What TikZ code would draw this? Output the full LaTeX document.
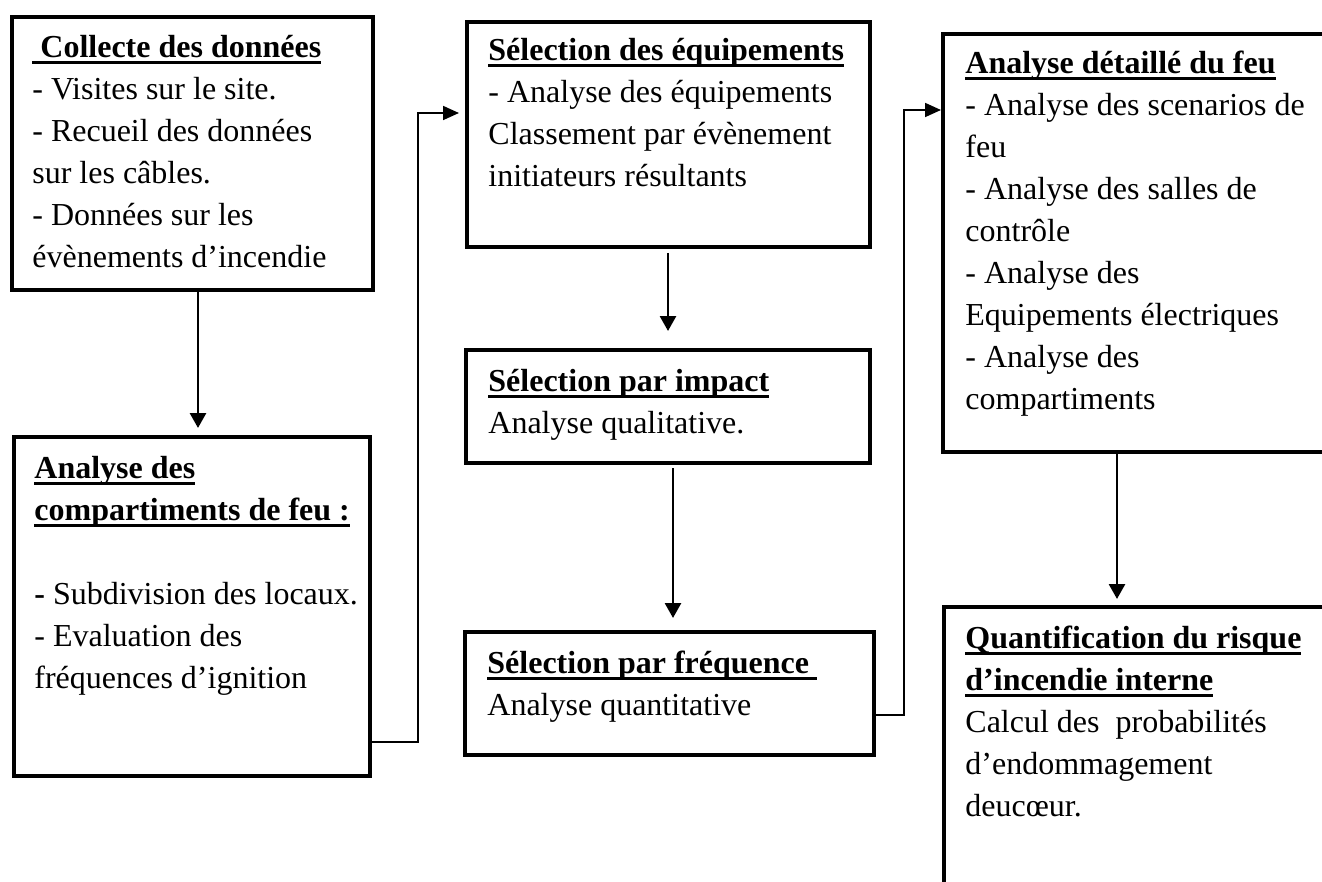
\documentclass[tikz,border=0pt]{standalone}
\usepackage{fontspec}
\setmainfont{Liberation Serif}
\usetikzlibrary{arrows.meta,fit}

% underline drawn at a fixed depth below the baseline
\newcommand\ulbox[1]{\setbox0\hbox{#1}\rlap{\rule[-3.5pt]{\wd0}{1.6pt}}\box0}

\begin{document}
\begin{tikzpicture}[x=0.5pt,y=-0.5pt,
  box/.style={draw, line width=2pt, inner sep=0pt, outer sep=0pt},
  txt/.style={anchor=north west, inner sep=0pt, align=left,
              font=\fontsize{16}{21}\selectfont},
  varrow/.style={line width=1.4pt, -{Triangle[length=7.5pt,width=8pt]}},
  earrow/.style={line width=0.9pt, -{Triangle[length=8pt,width=7pt]}},
]
\path[clip] (0,0) rectangle (1322,882);
\fill[white] (0,0) rectangle (1322,882);

% frames of the seven steps
\node[box, fit={(12,17) (373,290)}] (b1) {};
\node[box, fit={(14,437) (370,776)}] (b2) {};
\node[box, fit={(467,22) (870,247)}] (b3) {};
\node[box, fit={(466,350) (870,463)}] (b4) {};
\node[box, fit={(465,632) (874,755)}] (b5) {};
\node[box, fit={(943,34) (1360,452)}] (b6) {};
\node[box, fit={(944,607) (1360,920)}] (b7) {};

% texts of the steps
\node[txt] (t1) at (32,27.6) {\strut\ulbox{\bfseries\ Collecte des données}\\
  - Visites sur le site.\\
  - Recueil des données\\
  sur les câbles.\\
  - Données sur les\\
  évènements d’incendie};
\node[txt] (t2) at (34,448.6) {\strut\ulbox{\bfseries Analyse des}\\
  \ulbox{\bfseries compartiments de feu :}\\[21pt]
  \textbf{-} Subdivision des locaux.\\
  - Evaluation des\\
  fréquences d’ignition};
\node[txt] (t3) at (488,30.6) {\strut\ulbox{\bfseries Sélection des équipements}\\
  - Analyse des équipements\\
  Classement par évènement\\
  initiateurs résultants};
\node[txt] (t4) at (488,361.6) {\strut\ulbox{\bfseries Sélection par impact}\\
  Analyse qualitative.};
\node[txt] (t5) at (487,643.6) {\strut\ulbox{\bfseries Sélection par fréquence\ }\\
  Analyse quantitative};
\node[txt] (t6) at (965,43.6) {\strut\ulbox{\bfseries Analyse détaillé du feu}\\
  - Analyse des scenarios de\\
  feu\\
  - Analyse des salles de\\
  contrôle\\
  - Analyse des\\
  Equipements électriques\\
  - Analyse des\\
  compartiments};
\node[txt] (t7) at (965,618.6) {\strut\ulbox{\bfseries Quantification du risque}\\
  \ulbox{\bfseries d’incendie interne}\\
  Calcul des\ \ probabilités\\
  d’endommagement\\
  deucœur.};

% connectors
\coordinate (c1) at (198,0);
\draw[varrow, shorten >=4.5pt] (b1.south -| c1) -- (b2.north -| c1);

\coordinate (k1) at (418,742);
\coordinate (k2) at (418,113);
\draw[earrow, shorten >=4pt] (b2.east |- k1) -- (k1) -- (k2) -- (b3.west |- k2);

\coordinate (c3) at (668,0);
\draw[varrow, shorten <=3pt, shorten >=9.5pt] (b3.south -| c3) -- (b4.north -| c3);

\coordinate (c4) at (673,0);
\draw[varrow, shorten <=2.5pt, shorten >=7pt] (b4.south -| c4) -- (b5.north -| c4);

\coordinate (k3) at (904,715);
\coordinate (k4) at (904,110);
\draw[earrow, shorten >=1pt] (b5.east |- k3) -- (k3) -- (k4) -- (b6.west |- k4);

\coordinate (c6) at (1117,0);
\draw[varrow, shorten >=4pt] (b6.south -| c6) -- (b7.north -| c6);
\end{tikzpicture}
\end{document}
